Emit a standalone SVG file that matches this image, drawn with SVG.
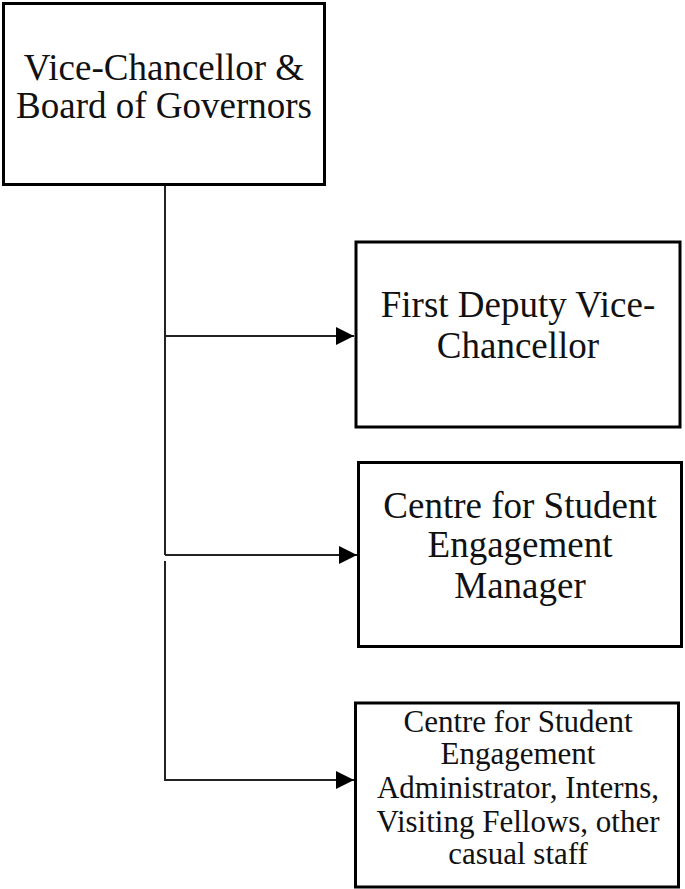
<svg xmlns="http://www.w3.org/2000/svg" width="685" height="889" viewBox="0 0 685 889">
<style>
.box{fill:#fff;stroke:#000;stroke-width:3}
.t{font-family:"Liberation Serif","Times New Roman",serif;fill:#111;text-anchor:middle}
.big{font-size:37px}
.small{font-size:31px}
.con{fill:none;stroke:#222;stroke-width:2}
</style>
<defs>
<marker id="arr" markerUnits="userSpaceOnUse" markerWidth="20" markerHeight="20" refX="18" refY="9" orient="auto">
<path d="M0,0 L18,9 L0,18 Z" fill="#000"/>
</marker>
</defs>
<rect width="685" height="889" fill="#fff"/>
<g id="connectors">
<path class="con" d="M165,185 V555"/>
<path class="con" d="M165,336 H354" marker-end="url(#arr)"/>
<path class="con" d="M165,555 H357" marker-end="url(#arr)"/>
<path class="con" d="M165,561 V780 H354" marker-end="url(#arr)"/>
</g>
<g id="vc">
<rect class="box" x="3.5" y="3.5" width="321" height="181"/>
<text class="t big" x="164" y="80">Vice-Chancellor &amp;</text>
<text class="t big" x="164" y="118">Board of Governors</text>
</g>
<g id="fdvc">
<rect class="box" x="356" y="242" width="324" height="185"/>
<text class="t big" x="518" y="317">First Deputy Vice-</text>
<text class="t big" x="518" y="358">Chancellor</text>
</g>
<g id="csem">
<rect class="box" x="358.5" y="462.5" width="323" height="184"/>
<text class="t big" x="520" y="518">Centre for Student</text>
<text class="t big" x="520" y="557">Engagement</text>
<text class="t big" x="520" y="598">Manager</text>
</g>
<g id="csea">
<rect class="box" x="355.5" y="703" width="323" height="184"/>
<text class="t small" x="518" y="732">Centre for Student</text>
<text class="t small" x="518" y="764">Engagement</text>
<text class="t small" x="518" y="798">Administrator, Interns,</text>
<text class="t small" x="518" y="832">Visiting Fellows, other</text>
<text class="t small" x="518" y="864">casual staff</text>
</g>
</svg>
